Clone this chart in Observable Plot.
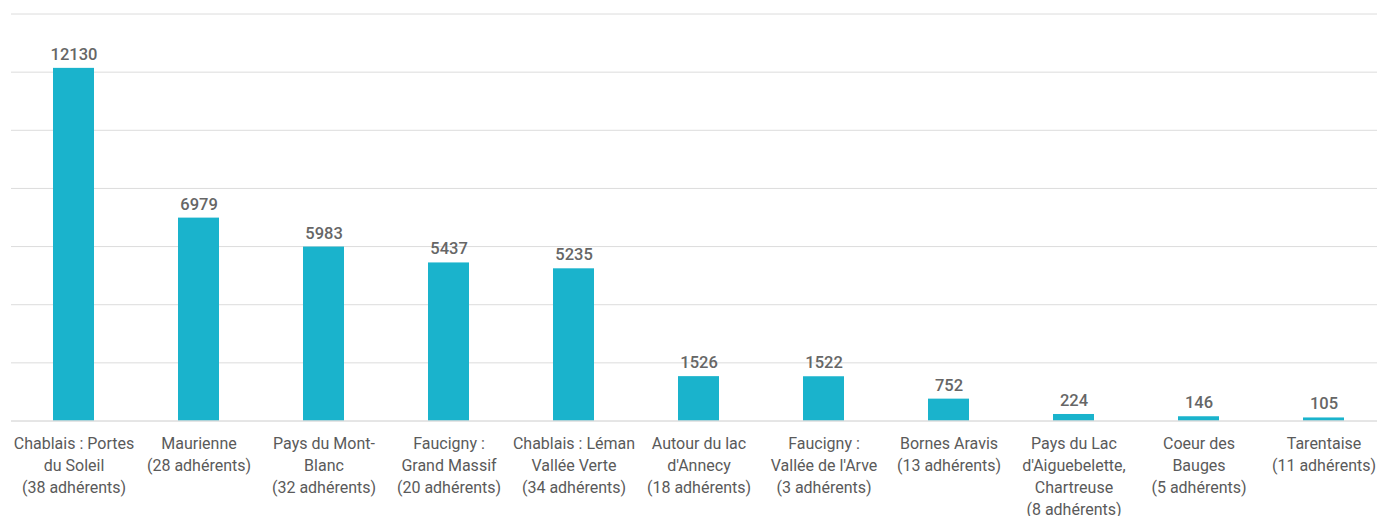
<!DOCTYPE html>
<html>
<head>
<meta charset="utf-8">
<script src="https://cdn.jsdelivr.net/npm/d3@7"></script>
<script src="https://cdn.jsdelivr.net/npm/@observablehq/plot@0.6"></script>
<style>
  html, body { margin: 0; padding: 0; background: #fff; overflow: hidden; }
  #chart { width: 1377px; height: 516px; }
</style>
</head>
<body>
<div id="chart"></div>
<script>
const labels = [
  "Chablais : Portes\ndu Soleil\n(38 adhérents)",
  "Maurienne\n(28 adhérents)",
  "Pays du Mont-\nBlanc\n(32 adhérents)",
  "Faucigny :\nGrand Massif\n(20 adhérents)",
  "Chablais : Léman\nVallée Verte\n(34 adhérents)",
  "Autour du lac\nd'Annecy\n(18 adhérents)",
  "Faucigny :\nVallée de l'Arve\n(3 adhérents)",
  "Bornes Aravis\n(13 adhérents)",
  "Pays du Lac\nd'Aiguebelette,\nChartreuse\n(8 adhérents)",
  "Coeur des\nBauges\n(5 adhérents)",
  "Tarentaise\n(11 adhérents)"
];
const values = [12130, 6979, 5983, 5437, 5235, 1526, 1522, 752, 224, 146, 105];
const gridTicks = [2000, 4000, 6000, 8000, 10000, 12000, 14000];

const data = labels.map((label, i) => ({label, value: values[i]}));

const chart = Plot.plot({
  width: 1377,
  height: 516,
  marginLeft: 11,
  marginRight: 0,
  marginTop: 13.5,
  marginBottom: 95.5,
  style: {fontFamily: "Roboto, sans-serif", background: "#fff"},
  x: {domain: labels, range: [11, 1386], paddingInner: 0.67, paddingOuter: 0.335, axis: null},
  y: {domain: [0, 14000], axis: null},
  marks: [
    Plot.ruleY(gridTicks, {stroke: "#dcdcdc", strokeWidth: 1}),
    Plot.barY(data, {x: "label", y: "value", fill: "#1ab3cc"}),
    Plot.ruleY([0], {stroke: "#cccccc", strokeWidth: 1}),
    Plot.text(data, {
      x: "label", y: "value", text: d => String(d.value),
      lineAnchor: "bottom", dy: -8.5, fontSize: 16.5, fontWeight: 500, fill: "#666"
    }),
    Plot.text(data, {
      x: "label", y: 0, text: "label",
      lineAnchor: "top", dy: 13, fontSize: 16, lineHeight: 1.36, fill: "#5a5a5a"
    })
  ]
});
document.getElementById("chart").appendChild(chart);
</script>
</body>
</html>
